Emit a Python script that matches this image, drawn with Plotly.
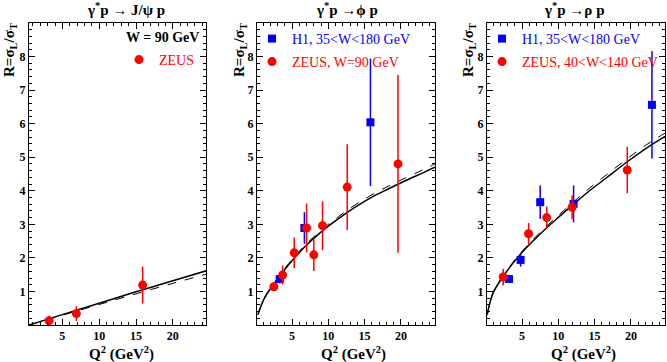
import plotly.graph_objects as go
from plotly.subplots import make_subplots

# ---- data ----
# J/psi, ZEUS W = 90 GeV
jpsi_zeus_q2 = [3.2, 6.9, 15.9]
jpsi_zeus_r = [0.13, 0.34, 1.19]
jpsi_zeus_err = [0.15, 0.22, 0.55]

# phi
phi_h1_q2 = [3.3, 6.7, 15.8]
phi_h1_r = [1.37, 2.89, 6.04]
phi_h1_err = [0.13, 0.47, 1.9]
phi_zeus_q2 = [2.5, 3.7, 5.3, 7.0, 8.0, 9.2, 12.6, 19.6]
phi_zeus_r = [1.14, 1.49, 2.15, 2.89, 2.09, 2.96, 4.11, 4.80]
phi_zeus_err = [0.13, 0.28, 0.46, 0.73, 0.48, 0.73, 1.28, 2.65]

# rho
rho_h1_q2 = [3.2, 4.8, 7.5, 12.1, 22.9]
rho_h1_r = [1.37, 1.94, 3.66, 3.61, 6.56]
rho_h1_err = [0.1, 0.2, 0.5, 0.55, 1.6]
rho_zeus_q2 = [2.4, 5.9, 8.4, 11.9, 19.5]
rho_zeus_r = [1.43, 2.72, 3.20, 3.51, 4.62]
rho_zeus_err = [0.25, 0.32, 0.33, 0.36, 0.69]

# model curves (solid / dashed)
jpsi_curve_q2 = [0.5, 5, 10, 15, 20, 24.6]
jpsi_curve_solid = [0.0, 0.31, 0.65, 0.99, 1.32, 1.62]
jpsi_curve_dashed = [0.0, 0.29, 0.61, 0.93, 1.24, 1.52]

phi_curve_q2 = [0.3, 1.2, 2.6, 4.5, 6.8, 9.1, 11.4, 13.7, 16.0, 18.3, 20.6, 22.9, 24.7]
phi_curve_solid = [0.31, 0.80, 1.25, 1.79, 2.34, 2.79, 3.17, 3.51, 3.81, 4.06, 4.30, 4.52, 4.70]
phi_curve_dashed = [0.31, 0.81, 1.27, 1.82, 2.38, 2.84, 3.23, 3.58, 3.88, 4.14, 4.38, 4.61, 4.80]

rho_curve_q2 = [0.2, 1.0, 2.4, 4.7, 7.4, 9.7, 12.0, 14.3, 16.6, 19.4, 22.0, 24.7]
rho_curve_solid = [0.31, 0.95, 1.45, 2.09, 2.69, 3.15, 3.58, 4.0, 4.38, 4.85, 5.25, 5.62]
rho_curve_dashed = [0.31, 0.96, 1.47, 2.12, 2.74, 3.21, 3.65, 4.08, 4.47, 4.94, 5.35, 5.72]

W, H = 667, 362
FONT = "Liberation Serif"
RED = "#ff0000"
BLUE = "#0000ff"

# plot frames in pixels
frames = [(29, 206), (257, 435), (487, 665)]
y_top, y_bot = 23, 325

fig = make_subplots(rows=1, cols=3)


def add_points(x, y, err, col, sym, size, leg, name):
    fig.add_trace(go.Scatter(
        x=x, y=y, mode="markers", name=name, legend=leg,
        marker=dict(color=col, symbol=sym, size=size),
        error_y=dict(type="data", array=err, color=col, thickness=1.5, width=0),
    ), row=1, col=cols[leg])


def add_curve(x, y, col, dash, width):
    fig.add_trace(go.Scatter(
        x=x, y=y, mode="lines", showlegend=False, line_shape="spline",
        line=dict(color="black", dash=dash, width=width),
    ), row=1, col=col)


cols = {"legend": 1, "legend2": 2, "legend3": 2, "legend4": 3, "legend5": 3}

add_curve(jpsi_curve_q2, jpsi_curve_dashed, 1, "dash", 1)
add_curve(jpsi_curve_q2, jpsi_curve_solid, 1, "solid", 1.5)
add_curve(phi_curve_q2, phi_curve_dashed, 2, "dash", 1)
add_curve(phi_curve_q2, phi_curve_solid, 2, "solid", 1.5)
add_curve(rho_curve_q2, rho_curve_dashed, 3, "dash", 1)
add_curve(rho_curve_q2, rho_curve_solid, 3, "solid", 1.5)

add_points(jpsi_zeus_q2, jpsi_zeus_r, jpsi_zeus_err, RED, "circle", 9, "legend", "ZEUS")
add_points(phi_h1_q2, phi_h1_r, phi_h1_err, BLUE, "square", 8, "legend2", "H1, 35&lt;W&lt;180 GeV")
add_points(phi_zeus_q2, phi_zeus_r, phi_zeus_err, RED, "circle", 9, "legend3", "ZEUS, W=90 GeV")
add_points(rho_h1_q2, rho_h1_r, rho_h1_err, BLUE, "square", 8, "legend4", "H1, 35&lt;W&lt;180 GeV")
add_points(rho_zeus_q2, rho_zeus_r, rho_zeus_err, RED, "circle", 9, "legend5", "ZEUS, 40&lt;W&lt;140 GeV")

tickfont = dict(family=FONT, size=12, color="black", weight="bold")
x_ranges = [[0.47, 24.5], [0.17, 24.7], [0.17, 24.7]]
for i in range(3):
    x0, x1 = frames[i]
    fig.update_xaxes(
        domain=[x0 / W, x1 / W], range=x_ranges[i],
        tickmode="array", tickvals=[5, 10, 15, 20],
        ticks="inside", ticklen=6, tickcolor="black",
        minor=dict(ticks="inside", ticklen=3, tickmode="linear", tick0=0, dtick=1, tickcolor="black"),
        showline=True, linecolor="black", linewidth=1, mirror="allticks",
        showgrid=False, zeroline=False, tickfont=tickfont,
        row=1, col=i + 1)
    fig.update_yaxes(
        domain=[1 - y_bot / H, 1 - y_top / H], range=[0, 9],
        tickmode="array", tickvals=[1, 2, 3, 4, 5, 6, 7, 8],
        ticks="inside", ticklen=6, tickcolor="black",
        minor=dict(ticks="inside", ticklen=3, tickmode="linear", tick0=0, dtick=0.2, tickcolor="black"),
        showline=True, linecolor="black", linewidth=1, mirror="allticks",
        showgrid=False, zeroline=False, tickfont=tickfont,
        row=1, col=i + 1)


def label(text, px, py, size, color="black", angle=0):
    fig.add_annotation(text=text, xref="paper", yref="paper",
                       x=px / W, y=1 - py / H, xanchor="center", yanchor="middle",
                       textangle=angle, showarrow=False,
                       font=dict(family=FONT, size=size, color=color))


titles = ["γ<sup>*</sup>p → J/ψ p", "γ<sup>*</sup>p →ϕ p", "γ<sup>*</sup>p →ρ p"]
title_x = [126, 347, 574]
ytitle_x = [10, 240, 469]
xtitle_x = [121, 353, 583]
for i in range(3):
    label("<b>" + titles[i] + "</b>", title_x[i], 9, 15)
    label("<b>R=σ<sub>L</sub>/σ<sub>T</sub></b>", ytitle_x[i], 50, 15, angle=-90)
    label("<b>Q<sup>2</sup> (GeV<sup>2</sup>)</b>", xtitle_x[i], 353, 15)

fig.add_annotation(text="<b>W = 90 GeV</b>", xref="paper", yref="paper",
                   x=201 / W, y=1 - 37 / H, xanchor="right", yanchor="middle", showarrow=False,
                   font=dict(family=FONT, size=14, color="black"))


def legend_box(px, py, col):
    return dict(x=(px - 23) / W, y=1 - py / H, xanchor="left", yanchor="middle",
                bgcolor="rgba(0,0,0,0)", borderwidth=0,
                font=dict(family=FONT, size=14, color=col))


fig.update_layout(
    width=W, height=H,
    margin=dict(l=0, r=0, t=0, b=0),
    paper_bgcolor="white", plot_bgcolor="white",
    legend=legend_box(142, 60, RED),
    legend2=legend_box(275, 39, BLUE),
    legend3=legend_box(275, 62, RED),
    legend4=legend_box(505, 39, BLUE),
    legend5=legend_box(505, 62, RED),
)

# page body has a default 8px margin; drop it so the figure sits at 0,0
fig.write_html("out.html", config={"displayModeBar": False},
               post_script="document.body.style.margin='0px';")
